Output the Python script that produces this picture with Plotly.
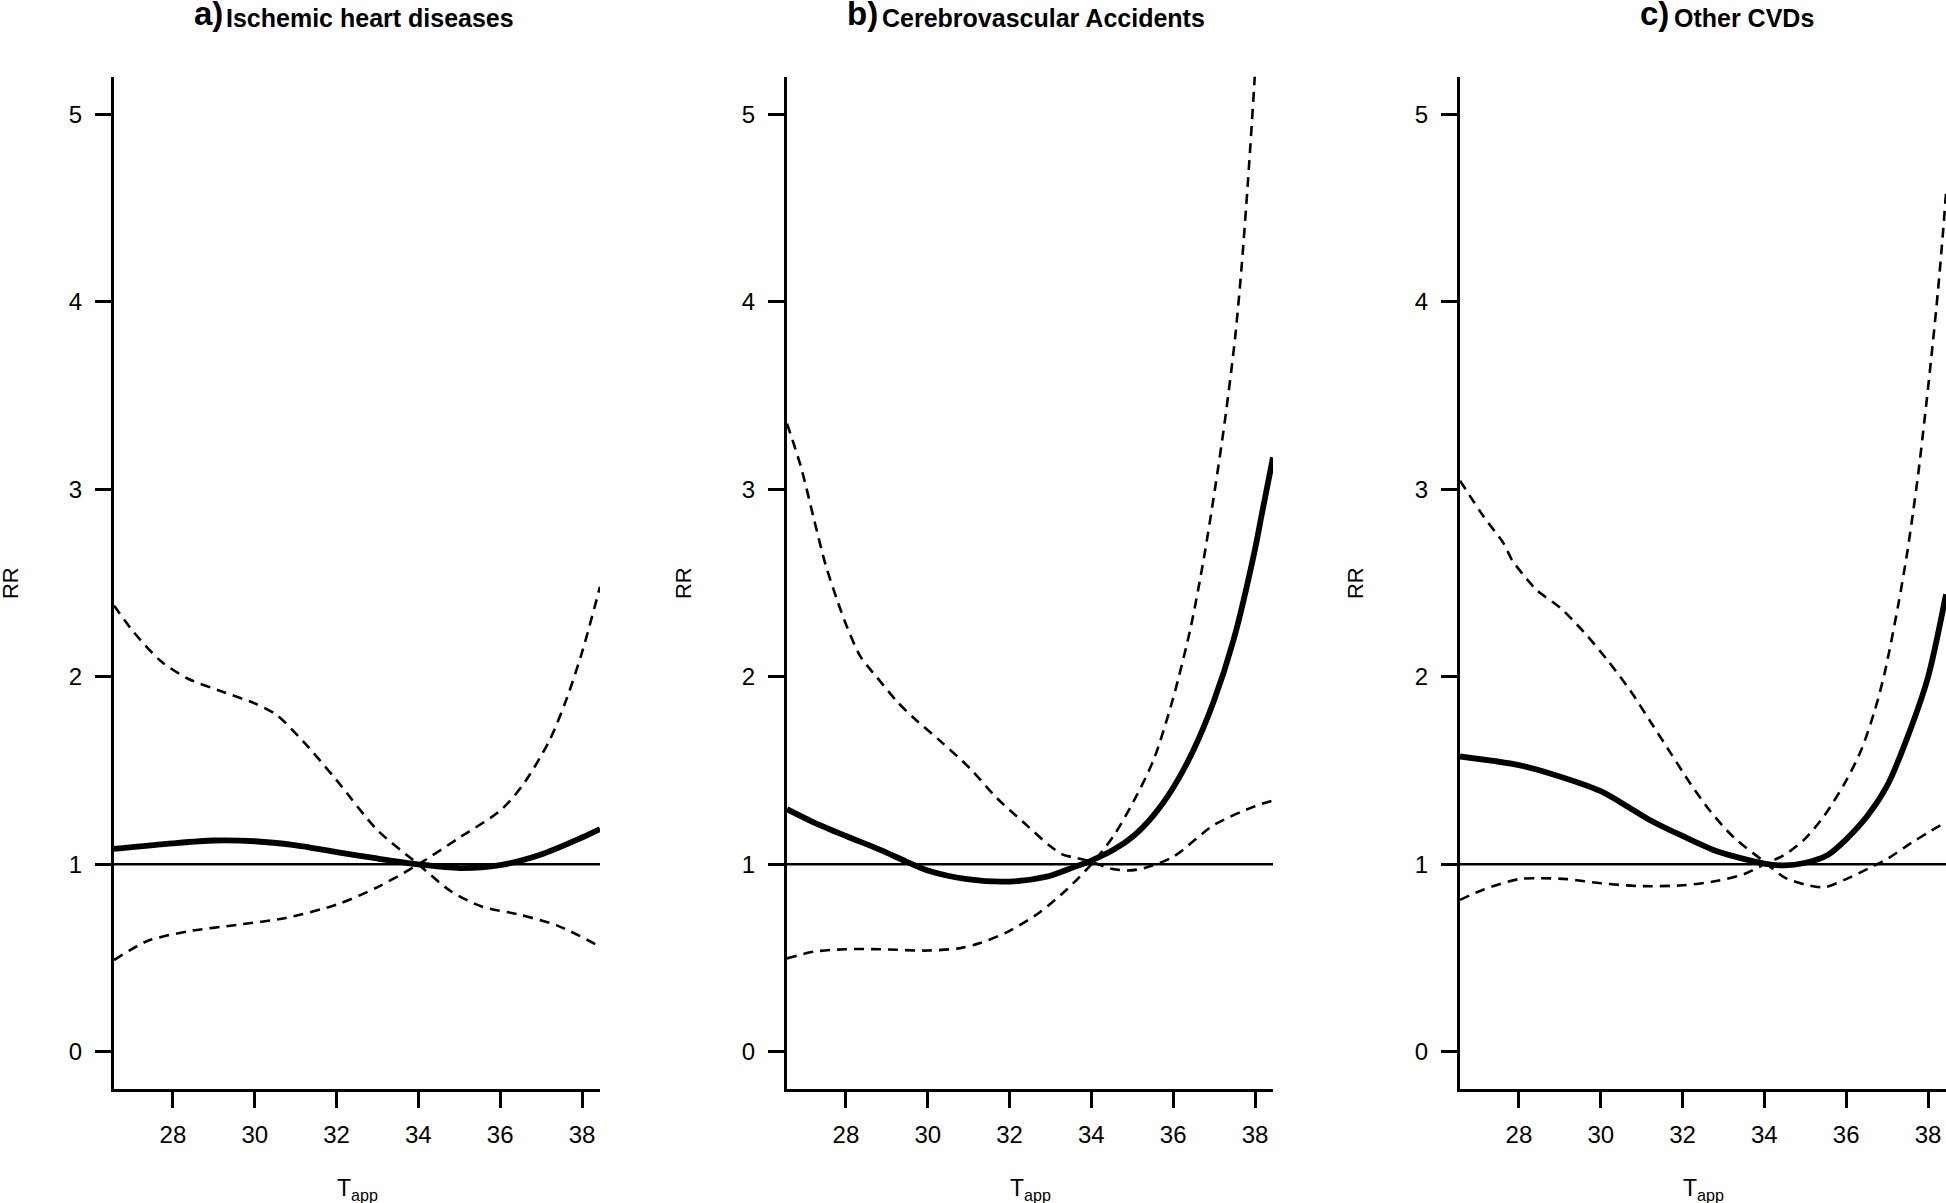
import plotly.graph_objects as go

W, H = 1946, 1203

# ---------------- data ----------------
titles_tag = ["a)", "b)", "c)"]
titles_text = ["Ischemic heart diseases", "Cerebrovascular Accidents", "Other CVDs"]
x_ticks = [28, 30, 32, 34, 36, 38]
y_ticks = [0, 1, 2, 3, 4, 5]
x_range = [26.56, 38.44]
y_range = [-0.2, 5.2]
ref_value = 1

# panel a
a_rr_x = [26.56, 28, 29.01, 30, 30.97, 32, 32.99, 34, 35.01, 36, 36.98, 38, 38.44]
a_rr_y = [1.082, 1.112, 1.127, 1.123, 1.102, 1.065, 1.031, 1.0, 0.98, 0.996, 1.051, 1.143, 1.188]
a_ci1_x = [26.56, 27.05, 27.71, 28.36, 29.23, 30, 30.53, 31.19, 32, 32.99, 34, 34.79, 35.55, 36.42, 37.4, 38.44]
a_ci1_y = [2.38, 2.236, 2.083, 1.991, 1.919, 1.858, 1.797, 1.654, 1.449, 1.184, 1.0, 0.857, 0.775, 0.734, 0.673, 0.561]
a_ci2_x = [26.56, 27.38, 28.36, 29.56, 30.76, 32, 32.99, 34, 35.01, 36, 36.54, 37.19, 37.62, 38, 38.44]
a_ci2_y = [0.489, 0.591, 0.642, 0.677, 0.714, 0.785, 0.877, 1.0, 1.143, 1.286, 1.419, 1.654, 1.88, 2.13, 2.48]

# panel b
b_rr_x = [26.56, 27.21, 28, 28.84, 29.49, 30, 30.96, 32, 32.91, 33.57, 34, 34.54, 35.03, 35.52, 36, 36.5, 36.99, 37.48, 38, 38.16, 38.44]
b_rr_y = [1.294, 1.224, 1.151, 1.077, 1.013, 0.967, 0.921, 0.908, 0.934, 0.985, 1.02, 1.077, 1.151, 1.261, 1.408, 1.611, 1.868, 2.2, 2.68, 2.86, 3.17]
b_ci1_x = [26.56, 26.9, 27.22, 27.5, 27.8, 28.02, 28.35, 28.76, 29.25, 29.66, 30.31, 31.04, 31.69, 32.34, 33.0, 33.32, 33.57, 34.0, 34.5, 34.9, 35.3, 36, 37, 38, 38.44]
b_ci1_y = [3.35, 3.12, 2.84, 2.6, 2.4, 2.27, 2.11, 1.997, 1.868, 1.78, 1.657, 1.51, 1.353, 1.224, 1.096, 1.05, 1.037, 1.013, 0.976, 0.967, 0.98, 1.04, 1.21, 1.31, 1.34]
b_ci2_x = [26.56, 27.21, 28, 28.84, 30, 30.8, 31.28, 32, 32.75, 33.4, 34, 34.54, 35.03, 35.52, 36, 36.42, 36.74, 37.02, 37.26, 37.51, 37.67, 37.83, 37.98, 38.02]
b_ci2_y = [0.498, 0.534, 0.547, 0.547, 0.54, 0.553, 0.58, 0.645, 0.746, 0.866, 1.0, 1.15, 1.335, 1.556, 1.887, 2.255, 2.62, 3.0, 3.36, 3.8, 4.18, 4.65, 5.15, 5.3]

# panel c
c_rr_x = [26.56, 28, 28.78, 30, 30.73, 31.22, 32, 32.86, 34, 34.49, 34.98, 35.55, 36, 36.53, 37.02, 37.51, 38, 38.44]
c_rr_y = [1.575, 1.529, 1.483, 1.39, 1.298, 1.234, 1.151, 1.068, 1.004, 0.994, 1.007, 1.05, 1.133, 1.261, 1.427, 1.685, 1.998, 2.44]
c_ci1_x = [26.56, 27.14, 27.63, 27.84, 28.2, 28.45, 29.02, 29.59, 30.16, 30.73, 31.22, 31.71, 32.2, 32.69, 33.26, 34, 34.49, 34.98, 35.47, 36, 36.53, 37.02, 37.59, 38, 38.44]
c_ci1_y = [3.046, 2.854, 2.71, 2.62, 2.52, 2.459, 2.366, 2.238, 2.09, 1.924, 1.759, 1.593, 1.427, 1.28, 1.142, 1.013, 0.93, 0.893, 0.878, 0.921, 0.976, 1.031, 1.114, 1.169, 1.225]
c_ci2_x = [26.56, 27.14, 28, 28.53, 29.18, 30, 30.9, 32, 32.86, 33.51, 34, 34.49, 34.98, 35.47, 36, 36.37, 36.69, 36.94, 37.27, 37.49, 37.63, 37.76, 37.92, 38.08, 38.24, 38.37, 38.44]
c_ci2_y = [0.81, 0.866, 0.921, 0.926, 0.921, 0.899, 0.884, 0.888, 0.912, 0.948, 1.0, 1.05, 1.133, 1.261, 1.446, 1.611, 1.814, 2.02, 2.38, 2.66, 2.87, 3.08, 3.38, 3.70, 4.05, 4.38, 4.58]

panels = [
    (a_rr_x, a_rr_y, a_ci1_x, a_ci1_y, a_ci2_x, a_ci2_y),
    (b_rr_x, b_rr_y, b_ci1_x, b_ci1_y, b_ci2_x, b_ci2_y),
    (c_rr_x, c_rr_y, c_ci1_x, c_ci1_y, c_ci2_x, c_ci2_y),
]

# ---------------- layout geometry (pixels) ----------------
panel_left = [114, 787, 1460]
panel_width = 486
plot_top, plot_bottom = 76.8, 1089.3
tag_right = [225, 880, 1671]
text_left = [224, 880, 1672]
title_bottom = 34
rr_x = [10, 683, 1355]
tapp_y = 1189

FONT = "Liberation Sans, Arial, Helvetica, sans-serif"


def px_x(p):
    return p / W


def px_y(p):
    return 1 - p / H


fig = go.Figure()
layout = dict(
    width=W, height=H,
    margin=dict(l=0, r=0, t=0, b=0),
    paper_bgcolor="white", plot_bgcolor="white",
    showlegend=False,
    font=dict(family=FONT, color="black"),
)
annotations = []

for i, (rx, ry, c1x, c1y, c2x, c2y) in enumerate(panels):
    sfx = "" if i == 0 else str(i + 1)
    xa, ya = "x" + sfx, "y" + sfx
    fig.add_trace(go.Scatter(x=x_range, y=[ref_value, ref_value], mode="lines",
                             line=dict(color="black", width=2.5), xaxis=xa, yaxis=ya,
                             hoverinfo="skip"))
    fig.add_trace(go.Scatter(x=c1x, y=c1y, mode="lines",
                             line=dict(color="black", width=2.6, dash="10px,7px", shape="spline",
                                       smoothing=0.8),
                             xaxis=xa, yaxis=ya))
    fig.add_trace(go.Scatter(x=c2x, y=c2y, mode="lines",
                             line=dict(color="black", width=2.6, dash="10px,7px", shape="spline",
                                       smoothing=0.8),
                             xaxis=xa, yaxis=ya))
    fig.add_trace(go.Scatter(x=rx, y=ry, mode="lines",
                             line=dict(color="black", width=5.8, shape="spline", smoothing=0.8),
                             xaxis=xa, yaxis=ya))

    left = panel_left[i]
    right = min(left + panel_width, W)
    layout["xaxis" + sfx] = dict(
        domain=[px_x(left), px_x(right)], range=x_range, anchor=ya,
        tickmode="array", tickvals=x_ticks, ticktext=[str(t) for t in x_ticks],
        showline=True, linewidth=3, linecolor="black", mirror=False,
        ticks="outside", ticklen=16, tickwidth=3, tickcolor="black",
        showgrid=False, zeroline=False,
        tickfont=dict(family=FONT, size=24, color="black"),
        ticklabelstandoff=6,
    )
    layout["yaxis" + sfx] = dict(
        domain=[px_y(plot_bottom), px_y(plot_top)], range=y_range, anchor=xa,
        tickmode="array", tickvals=y_ticks, ticktext=[str(t) for t in y_ticks],
        showline=True, linewidth=3, linecolor="black", mirror=False,
        ticks="outside", ticklen=16, tickwidth=3, tickcolor="black",
        showgrid=False, zeroline=False,
        tickfont=dict(family=FONT, size=24, color="black"),
        ticklabelstandoff=8,
    )
    # title: tag (larger) + text
    annotations.append(dict(
        xref="paper", yref="paper", x=px_x(tag_right[i]), y=px_y(title_bottom),
        xanchor="right", yanchor="bottom", showarrow=False,
        text="<b>" + titles_tag[i] + "</b>",
        font=dict(family=FONT, size=33, color="black"),
    ))
    annotations.append(dict(
        xref="paper", yref="paper", x=px_x(text_left[i]), y=px_y(title_bottom),
        xanchor="left", yanchor="bottom", showarrow=False,
        text="<b>" + titles_text[i] + "</b>",
        font=dict(family=FONT, size=25, color="black"),
    ))
    # x label
    annotations.append(dict(
        xref="paper", yref="paper", x=px_x(left + panel_width / 2), y=px_y(tapp_y),
        xanchor="center", yanchor="middle", showarrow=False,
        text="T<sub>app</sub>", font=dict(family=FONT, size=23, color="black"),
    ))
    # y label
    annotations.append(dict(
        xref="paper", yref="paper", x=px_x(rr_x[i]), y=px_y((plot_top + plot_bottom) / 2),
        xanchor="center", yanchor="middle", showarrow=False, textangle=-90,
        text="RR", font=dict(family=FONT, size=22, color="black"),
    ))

layout["annotations"] = annotations
fig.update_layout(**layout)
fig.write_html("out.html",
               config={"displayModeBar": False},
               post_script="document.body.style.margin='0px';document.body.style.overflow='hidden';")
